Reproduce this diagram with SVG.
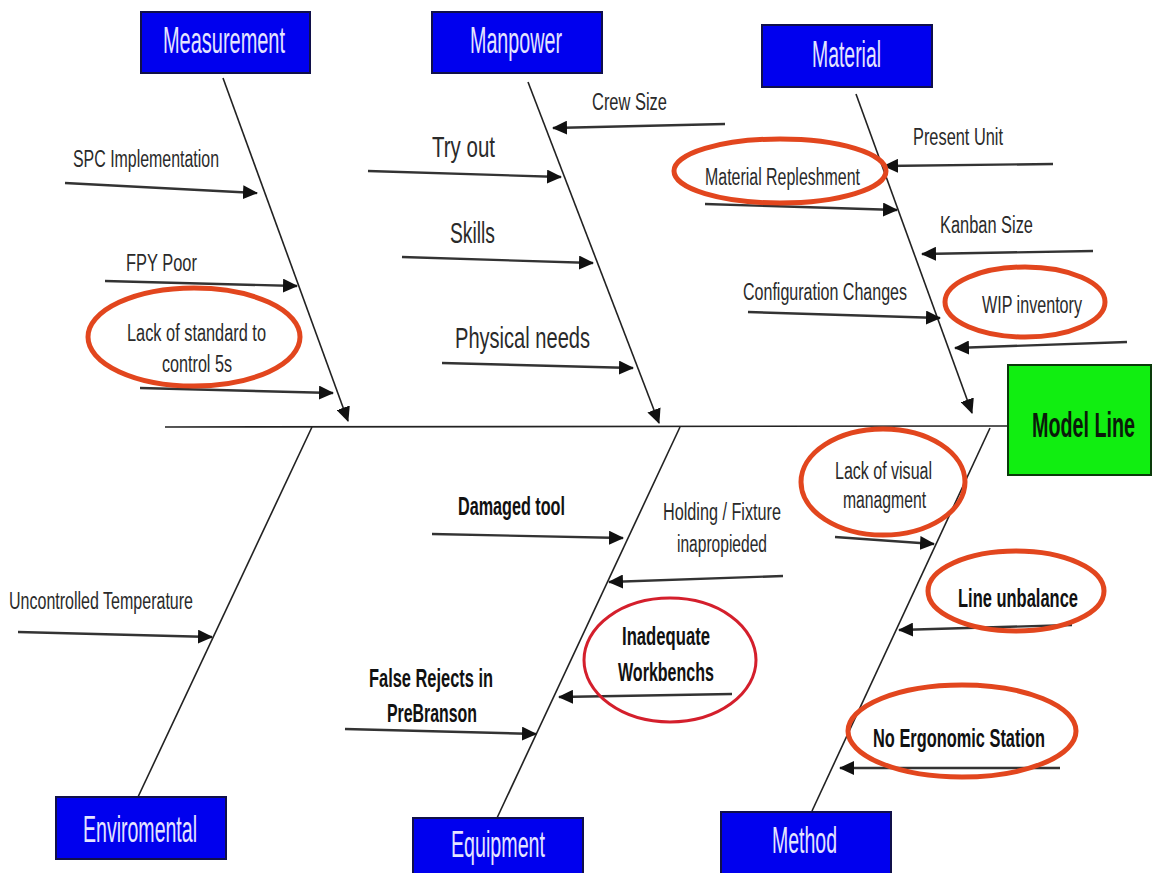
<svg xmlns="http://www.w3.org/2000/svg" width="1152" height="873" viewBox="0 0 1152 873">
<defs>
<marker id="ah" markerUnits="userSpaceOnUse" markerWidth="16" markerHeight="14" refX="14" refY="7" orient="auto">
<path d="M0,0 L15,7 L0,14 z" fill="#111"/>
</marker>
<style>
.cat{fill:#0000ee;stroke:#10104a;stroke-width:2}
.catt{fill:#e4e4ff;font-family:"Liberation Sans",Arial,sans-serif;font-size:36px}
.bone{stroke:#222;stroke-width:1.6;fill:none}
.sub{stroke:#333;stroke-width:2.4;fill:none;marker-end:url(#ah)}
.lbl{fill:#2a2a2a;font-family:"Liberation Sans",Arial,sans-serif;font-size:23px}
.big{font-size:29px}
.bold{font-weight:bold;fill:#111;font-size:25px}
.ring{fill:none;stroke:#e2461e;stroke-width:5}
.ring2{fill:none;stroke:#d41f2c;stroke-width:3}
</style>
</defs>
<rect width="1152" height="873" fill="#fff"/>

<g id="connectors">
<line class="bone" x1="165" y1="427" x2="1008" y2="426"/>
<line class="bone" x1="223" y1="78" x2="348" y2="421" style="marker-end:url(#ah)"/>
<line class="bone" x1="528" y1="82" x2="659" y2="423" style="marker-end:url(#ah)"/>
<line class="bone" x1="856" y1="94" x2="972" y2="413" style="marker-end:url(#ah)"/>
<line class="bone" x1="138" y1="797" x2="312" y2="427"/>
<line class="bone" x1="497" y1="818" x2="680" y2="427"/>
<line class="bone" x1="812" y1="811" x2="990" y2="428"/>

<line class="sub" x1="65" y1="183" x2="257" y2="193"/>
<line class="sub" x1="105" y1="281" x2="297" y2="286"/>
<line class="sub" x1="140" y1="388" x2="333" y2="393"/>

<line class="sub" x1="725" y1="124" x2="553" y2="128"/>
<line class="sub" x1="368" y1="171" x2="561" y2="177"/>
<line class="sub" x1="402" y1="257" x2="593" y2="263"/>
<line class="sub" x1="442" y1="363" x2="633" y2="368"/>

<line class="sub" x1="1053" y1="164" x2="884" y2="166"/>
<line class="sub" x1="705" y1="204" x2="897" y2="210"/>
<line class="sub" x1="1093" y1="251" x2="922" y2="254"/>
<line class="sub" x1="748" y1="312" x2="940" y2="318"/>
<line class="sub" x1="1127" y1="342" x2="955" y2="348"/>

<line class="sub" x1="18" y1="632" x2="212" y2="637"/>

<line class="sub" x1="432" y1="534" x2="623" y2="538"/>
<line class="sub" x1="783" y1="576" x2="609" y2="582"/>
<line class="sub" x1="732" y1="694" x2="559" y2="697"/>
<line class="sub" x1="345" y1="729" x2="536" y2="734"/>

<line class="sub" x1="835" y1="537" x2="934" y2="544"/>
<line class="sub" x1="1072" y1="625" x2="899" y2="630"/>
<line class="sub" x1="1060" y1="768" x2="840" y2="768"/>
</g>

<g id="measurement">
<rect class="cat" x="141" y="12" width="169" height="61"/>
<text class="catt" x="163" y="53" textLength="122" lengthAdjust="spacingAndGlyphs">Measurement</text>
</g>
<g id="manpower">
<rect class="cat" x="432" y="12" width="170" height="61"/>
<text class="catt" x="470" y="53" textLength="92" lengthAdjust="spacingAndGlyphs">Manpower</text>
</g>
<g id="material">
<rect class="cat" x="762" y="25" width="170" height="62"/>
<text class="catt" x="812" y="67" textLength="69" lengthAdjust="spacingAndGlyphs">Material</text>
</g>
<g id="model-line">
<rect x="1008" y="365" width="143" height="110" fill="#11ee11" stroke="#0a3a0a" stroke-width="2"/>
<text transform="translate(1032,437) scale(0.548,1)" x="0" y="0" style="font-family:'Liberation Sans',Arial,sans-serif;font-size:36px;font-weight:bold;fill:#0a1a0a">Model Line</text>
</g>
<g id="enviromental">
<rect class="cat" x="56" y="797" width="170" height="62"/>
<text class="catt" x="83" y="842" textLength="114" lengthAdjust="spacingAndGlyphs">Enviromental</text>
</g>
<g id="equipment">
<rect class="cat" x="413" y="818" width="170" height="60"/>
<text class="catt" x="451" y="857" textLength="94" lengthAdjust="spacingAndGlyphs">Equipment</text>
</g>
<g id="method">
<rect class="cat" x="721" y="812" width="170" height="66"/>
<text class="catt" x="772" y="853" textLength="65" lengthAdjust="spacingAndGlyphs">Method</text>
</g>

<g id="spc-implementation"><text class="lbl" x="73" y="167" textLength="146" lengthAdjust="spacingAndGlyphs">SPC Implementation</text></g>
<g id="fpy-poor"><text class="lbl" x="126" y="271" textLength="71" lengthAdjust="spacingAndGlyphs">FPY Poor</text></g>
<g id="lack-standard">
<ellipse class="ring" cx="194" cy="337" rx="106" ry="49"/>
<text class="lbl" x="127" y="341" textLength="139" lengthAdjust="spacingAndGlyphs">Lack of standard to</text>
<text class="lbl" x="162" y="372" textLength="70" lengthAdjust="spacingAndGlyphs">control 5s</text>
</g>

<g id="crew-size"><text class="lbl" x="592" y="110" textLength="75" lengthAdjust="spacingAndGlyphs">Crew Size</text></g>
<g id="try-out"><text class="lbl big" x="432" y="157" textLength="63" lengthAdjust="spacingAndGlyphs">Try out</text></g>
<g id="skills"><text class="lbl big" x="450" y="243" textLength="45" lengthAdjust="spacingAndGlyphs">Skills</text></g>
<g id="physical-needs"><text class="lbl big" x="455" y="348" textLength="135" lengthAdjust="spacingAndGlyphs">Physical needs</text></g>

<g id="present-unit"><text class="lbl" x="913" y="145" textLength="90" lengthAdjust="spacingAndGlyphs">Present Unit</text></g>
<g id="material-repleshment">
<ellipse class="ring" cx="780" cy="171" rx="106" ry="32"/>
<text class="lbl" x="705" y="185" textLength="155" lengthAdjust="spacingAndGlyphs">Material Repleshment</text>
</g>
<g id="kanban-size"><text class="lbl" x="940" y="233" textLength="93" lengthAdjust="spacingAndGlyphs">Kanban Size</text></g>
<g id="configuration-changes"><text class="lbl" x="743" y="300" textLength="164" lengthAdjust="spacingAndGlyphs">Configuration  Changes</text></g>
<g id="wip-inventory">
<ellipse class="ring" cx="1025" cy="302" rx="80" ry="35"/>
<text class="lbl" x="982" y="313" textLength="100" lengthAdjust="spacingAndGlyphs">WIP inventory</text>
</g>

<g id="uncontrolled-temperature"><text class="lbl" x="9" y="609" textLength="184" lengthAdjust="spacingAndGlyphs">Uncontrolled  Temperature</text></g>

<g id="damaged-tool"><text class="lbl bold" x="458" y="515" textLength="107" lengthAdjust="spacingAndGlyphs">Damaged tool</text></g>
<g id="holding-fixture">
<text class="lbl" x="663" y="520" textLength="118" lengthAdjust="spacingAndGlyphs">Holding  / Fixture</text>
<text class="lbl" x="677" y="552" textLength="90" lengthAdjust="spacingAndGlyphs">inapropieded</text>
</g>
<g id="inadequate-workbenchs">
<ellipse class="ring2" cx="670" cy="660" rx="86" ry="62"/>
<text class="lbl bold" x="622" y="645" textLength="88" lengthAdjust="spacingAndGlyphs">Inadequate</text>
<text class="lbl bold" x="618" y="681" textLength="96" lengthAdjust="spacingAndGlyphs">Workbenchs</text>
</g>
<g id="false-rejects">
<text class="lbl bold" x="369" y="687" textLength="124" lengthAdjust="spacingAndGlyphs">False Rejects in</text>
<text class="lbl bold" x="387" y="722" textLength="90" lengthAdjust="spacingAndGlyphs">PreBranson</text>
</g>

<g id="lack-visual">
<ellipse class="ring" cx="883" cy="482" rx="82" ry="53"/>
<text class="lbl" x="835" y="479" textLength="97" lengthAdjust="spacingAndGlyphs">Lack of visual</text>
<text class="lbl" x="843" y="508" textLength="83" lengthAdjust="spacingAndGlyphs">managment</text>
</g>
<g id="line-unbalance">
<ellipse class="ring" cx="1016" cy="591" rx="88" ry="40"/>
<text class="lbl bold" x="958" y="607" textLength="120" lengthAdjust="spacingAndGlyphs">Line unbalance</text>
</g>
<g id="no-ergonomic">
<ellipse class="ring" cx="962" cy="731" rx="114" ry="46"/>
<text class="lbl bold" x="873" y="747" textLength="172" lengthAdjust="spacingAndGlyphs">No Ergonomic  Station</text>
</g>
</svg>
